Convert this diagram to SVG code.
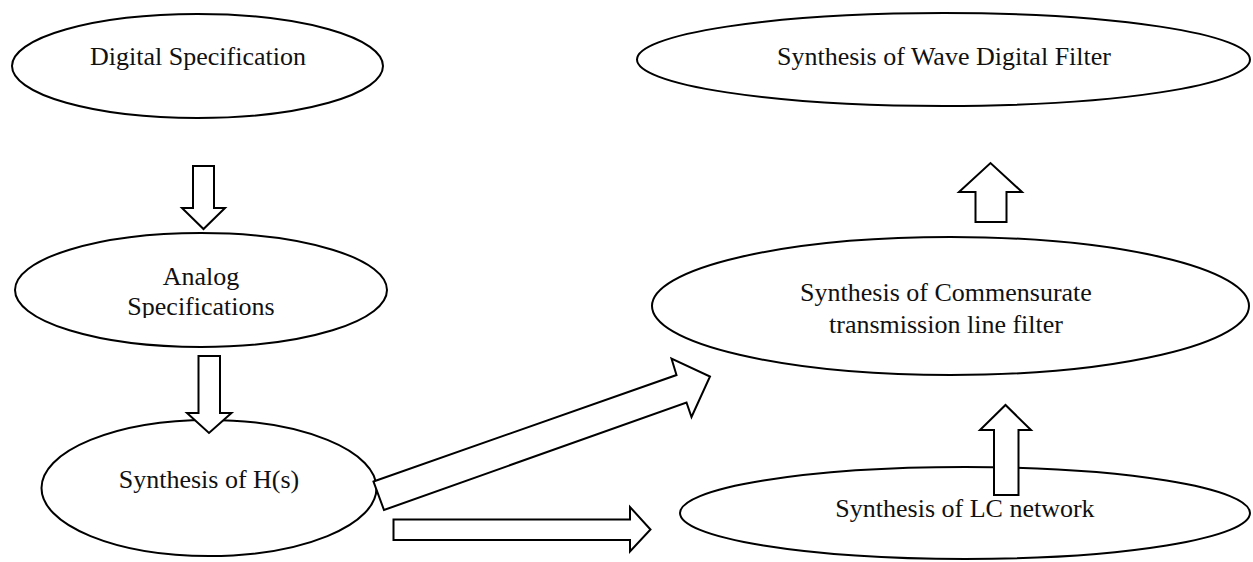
<svg xmlns="http://www.w3.org/2000/svg" width="1253" height="562" viewBox="0 0 1253 562">
  <defs>
    <style>
      .node { fill: #ffffff; stroke: #000000; stroke-width: 2; }
      .arrow { fill: #ffffff; stroke: #000000; stroke-width: 2; stroke-linejoin: miter; }
      .label { font-family: "Liberation Serif", "Times New Roman", serif; font-size: 26px; fill: #111111; text-anchor: middle; }
    </style>
    <clipPath id="analog-clip">
      <rect x="20" y="250" width="360" height="68"/>
    </clipPath>
  </defs>
  <rect width="1253" height="562" fill="#ffffff"/>

  <g id="node-digital-spec">
    <ellipse class="node" cx="197.5" cy="66" rx="185.5" ry="52"/>
    <text class="label" x="198" y="65">Digital Specification</text>
  </g>

  <g id="node-analog-spec">
    <ellipse class="node" cx="201" cy="290" rx="186" ry="57"/>
    <g clip-path="url(#analog-clip)">
      <text class="label" x="201" y="285">Analog</text>
      <text class="label" x="201" y="315">Specifications</text>
    </g>
  </g>

  <g id="node-hs">
    <ellipse class="node" cx="209" cy="488" rx="167.5" ry="68"/>
    <text class="label" x="209" y="488">Synthesis of H(s)</text>
  </g>

  <g id="node-wdf">
    <ellipse class="node" cx="943.5" cy="59.5" rx="306.5" ry="46.5"/>
    <text class="label" x="944" y="65">Synthesis of Wave Digital Filter</text>
  </g>

  <g id="node-commensurate">
    <ellipse class="node" cx="950.5" cy="306" rx="298.5" ry="69"/>
    <text class="label" x="946" y="301">Synthesis of Commensurate</text>
    <text class="label" x="946" y="333">transmission line filter</text>
  </g>

  <g id="node-lc">
    <ellipse class="node" cx="965" cy="513" rx="285" ry="46"/>
    <text class="label" x="965" y="517">Synthesis of LC network</text>
  </g>

  <g id="connectors">
    <!-- Digital Specification -> Analog Specifications -->
    <polygon class="arrow" points="193,166 214,166 214,208 225,208 203.5,229 182,208 193,208"/>
    <!-- Analog Specifications -> Synthesis of H(s) -->
    <polygon class="arrow" points="198.5,356 220,356 220,413 231.5,413 209,433 187,413 198.5,413"/>
    <!-- Synthesis of H(s) -> Commensurate line filter -->
    <polygon class="arrow" points="373.5,481.5 676.5,375 671.5,358.5 710,376.5 691.5,417 686.5,402.5 384,510"/>
    <!-- Synthesis of H(s) -> LC network -->
    <polygon class="arrow" points="393.5,519.5 630,519.5 630,507 650.5,529.5 630,551.5 630,540 393.5,540"/>
    <!-- LC network -> Commensurate line filter -->
    <polygon class="arrow" points="994,495 1018.5,495 1018.5,430 1031,430 1005.5,405 980,430 994,430"/>
    <!-- Commensurate line filter -> Wave Digital Filter -->
    <polygon class="arrow" points="975.5,222 1006.5,222 1006.5,192 1022,192 990.5,163 959,192 975.5,192"/>
  </g>
</svg>
